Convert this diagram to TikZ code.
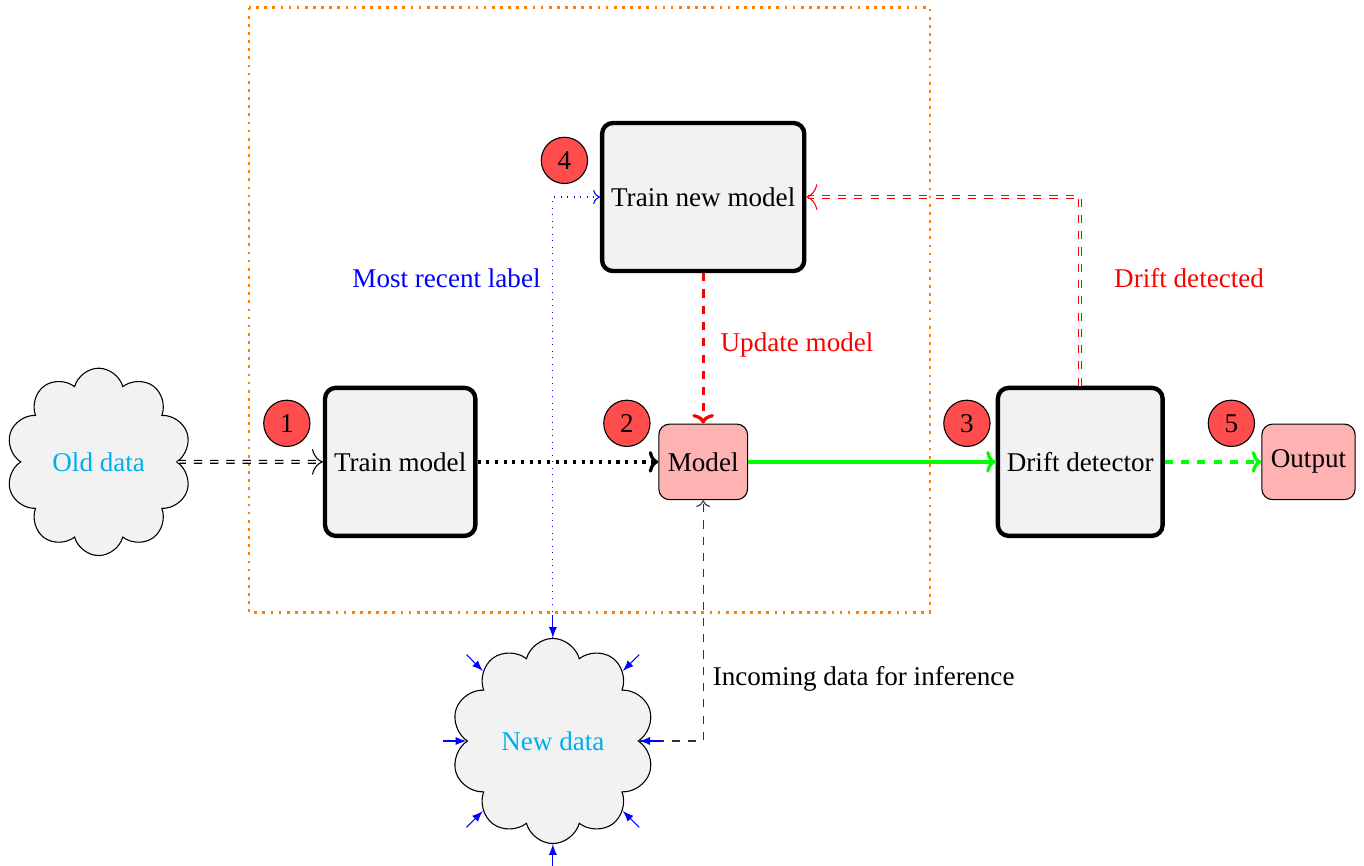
\documentclass[tikz,border=0pt]{standalone}
\usepackage{fontspec}
\setmainfont{Liberation Serif}
\usetikzlibrary{shapes.symbols,positioning,arrows.meta}
\definecolor{datablue}{RGB}{0,174,239}
\tikzset{
	bigbox/.style = {draw, ultra thick, rounded corners, fill = gray!10, minimum width = 1.92cm, minimum height = 1.92cm},
	smallbox/.style = {draw, rounded corners, fill = red!30, minimum height = 0.98cm},
	datacloud/.style = {draw, cloud, cloud puffs = 10, fill = gray!10, text = datablue},
	stepnum/.style = {circle, draw, fill = red!70, minimum size = 0.6cm, inner sep = 0pt},
	widetip/.tip = {To[width = 9.5pt, length = 4pt]},
	boldtip/.tip = {To[width = 8pt, length = 3.5pt]}
}
\begin{document}
\begin{tikzpicture}
				\useasboundingbox (0, 0) rectangle (17.69, -11.22);
				\draw[orange, line width = 1pt, dotted] (3.23, -0.10) rectangle (12.06, -7.94);
					\node[datacloud, minimum width = 2.36cm, minimum height = 2.43cm] (olddata) at (1.28, -5.99) {Old data};
					\node[bigbox] (trainm) at (5.19, -5.99) {Train model};
					\node[smallbox] (model) at (9.12, -5.99) {Model};
					\node[bigbox] (drift) at (14.01, -5.99) {Drift detector};
					\node[smallbox] (output) at (16.97, -5.99) {Output};
					\node[bigbox] (trainnew) at (9.12, -2.555) {Train new model};
					\node[datacloud, minimum width = 2.55cm, minimum height = 2.66cm] (newdata) at (7.17, -9.61) {New data};
				% step numbers
					\node[stepnum] (s1) at (3.72, -5.49) {1};
					\node[stepnum] (s2) at (8.13, -5.49) {2};
					\node[stepnum] (s3) at (12.54, -5.49) {3};
					\node[stepnum] (s4) at (7.32, -2.08) {4};
					\node[stepnum] (s5) at (15.97, -5.49) {5};
				% flow
					\draw[-widetip, double, dashed] (olddata) -- (trainm);
					\draw[-boldtip, very thick, dotted] (trainm) -- (model);
					\draw[-boldtip, very thick, green] (model) -- (drift);
					\draw[-boldtip, very thick, dashed, green] (drift) -- (output);
					\draw[-boldtip, very thick, dashed, red] (trainnew) -- node[pos = 0.48, right = 2.5pt]{Update model} (model);
					\draw[-widetip, double, dashed, red] (drift.north) |- node[pos = 0.285, right = 9pt]{Drift detected} (trainnew.east);
					\draw[->, dotted, blue] (newdata.north) |- node[pos = 0.408, left = 1pt]{Most recent label} (trainnew.west);
					\draw[->, dashed, draw = black!80] (newdata.east) -| node[pos = 0.63, right]{Incoming data for inference} (model.south);
				% arrows into the new data
					\foreach \a in {0, 45, ..., 315}
						\draw[latex-, blue] (newdata.\a) -- ++(\a:0.3);
\end{tikzpicture}
\end{document}
